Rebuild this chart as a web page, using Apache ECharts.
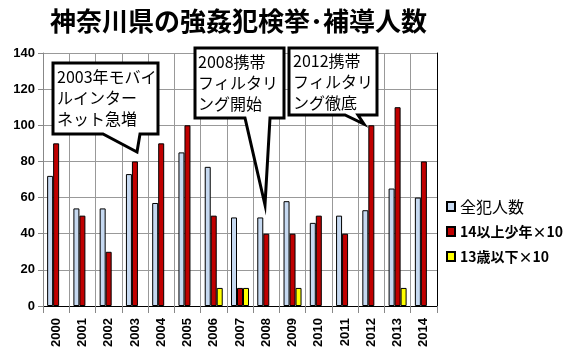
<!DOCTYPE html>
<html><head><meta charset="utf-8">
<script src="https://cdn.jsdelivr.net/npm/echarts@6/dist/echarts.min.js"></script>
<style>html,body{margin:0;padding:0;background:#fff}#c{width:578px;height:358px}</style>
</head><body><div id="c"></div>
<script>
const titleText = '神奈川県の強姦犯検挙･補導人数';
const years = ['2000','2001','2002','2003','2004','2005','2006','2007','2008','2009','2010','2011','2012','2013','2014'];
const allOffenders = [72,54,54,73,57,85,77,49,49,58,46,50,53,65,60];
const age14plus = [90,50,30,80,90,100,50,10,40,40,50,40,100,110,80];
const age13under = [0,0,0,0,0,0,10,10,0,10,0,0,0,10,0];
const seriesNames = ['全犯人数','14以上少年×10','13歳以下×10'];
const yTicks = {min:0, max:140, interval:20};

const hideZero = arr => arr.map(v => v === 0 ? '-' : v);
const chart = echarts.init(document.getElementById('c'));
const lbl = {fontFamily:'Liberation Sans, Arial, sans-serif', fontWeight:'bold', fontSize:13, color:'#000'};
const barBorder = {borderColor:'#000', borderWidth:1};
const calloutFont = {fontFamily:'Noto Sans CJK JP', fontSize:16, fill:'#000', lineHeight:21, textVerticalAlign:'top'};
function callout(points, x, y, text){
  return [
    {type:'polygon', shape:{points:points}, style:{fill:'#fff', stroke:'#000', lineWidth:3, lineJoin:'miter'}, z:100},
    {type:'text', x:x, y:y, style:Object.assign({text:text}, calloutFont), z:101}
  ];
}
chart.setOption({
  animation:false,
  title:{text:titleText, left:45, top:3, textStyle:{fontFamily:'Noto Sans CJK JP', fontWeight:'bold', fontSize:26, color:'#000'}},
  grid:{left:43, right:141, top:53, bottom:52},
  legend:{orient:'vertical', left:441, top:193, icon:'rect', itemWidth:8, itemHeight:9, itemGap:8,
    textStyle:{fontFamily:'Noto Sans CJK JP', fontSize:14, color:'#000', fontWeight:'bold', lineHeight:17},
    data:[{name:seriesNames[0], textStyle:{fontWeight:'normal', fontSize:16, lineHeight:17}},{name:seriesNames[1]},{name:seriesNames[2]}]},
  xAxis:[{type:'category', data:years,
    axisLine:{lineStyle:{color:'#888'}},
    axisTick:{show:true, length:7, lineStyle:{color:'#888'}},
    splitLine:{show:true, lineStyle:{color:'#999'}},
    axisLabel:Object.assign({rotate:90, margin:12, interval:0}, lbl)},
   {type:'category', data:years, position:'top', axisLine:{show:true, lineStyle:{color:'#000'}}, axisTick:{show:false}, axisLabel:{show:false}}],
  yAxis:[{type:'value', min:yTicks.min, max:yTicks.max, interval:yTicks.interval,
    axisLine:{show:true, lineStyle:{color:'#888'}},
    axisTick:{show:true, length:5, lineStyle:{color:'#888'}},
    splitLine:{lineStyle:{color:'#999'}},
    axisLabel:Object.assign({margin:8}, lbl)},
   {type:'value', min:yTicks.min, max:yTicks.max, interval:yTicks.interval, position:'right', axisLine:{show:true, lineStyle:{color:'#000'}}, axisTick:{show:false}, axisLabel:{show:false}, splitLine:{show:false}}],
  series:[
    {name:seriesNames[0], type:'bar', data:hideZero(allOffenders), barWidth:6, barGap:'0%', itemStyle:Object.assign({color:'#c6d9f1'}, barBorder)},
    {name:seriesNames[1], type:'bar', data:hideZero(age14plus), barWidth:6, barGap:'0%', itemStyle:Object.assign({color:'#c00000'}, barBorder)},
    {name:seriesNames[2], type:'bar', data:hideZero(age13under), barWidth:6, barGap:'0%', itemStyle:Object.assign({color:'#ffff00'}, barBorder)}
  ],
  graphic:[].concat(
    callout([[53,63],[158,63],[158,134],[140,134],[137,152],[103,134],[53,134]], 57, 66, '2003年モバイ\nルインター\nネット急増'),
    callout([[195,48],[284,48],[284,118],[270,118],[265,205],[245,118],[195,118]], 198, 51, '2008携帯\nフィルタリ\nング開始'),
    callout([[289,48],[377,48],[377,115],[358,115],[364,124],[345,115],[289,115]], 293, 50, '2012携帯\nフィルタリ\nング徹底')
  )
});
</script></body></html>
